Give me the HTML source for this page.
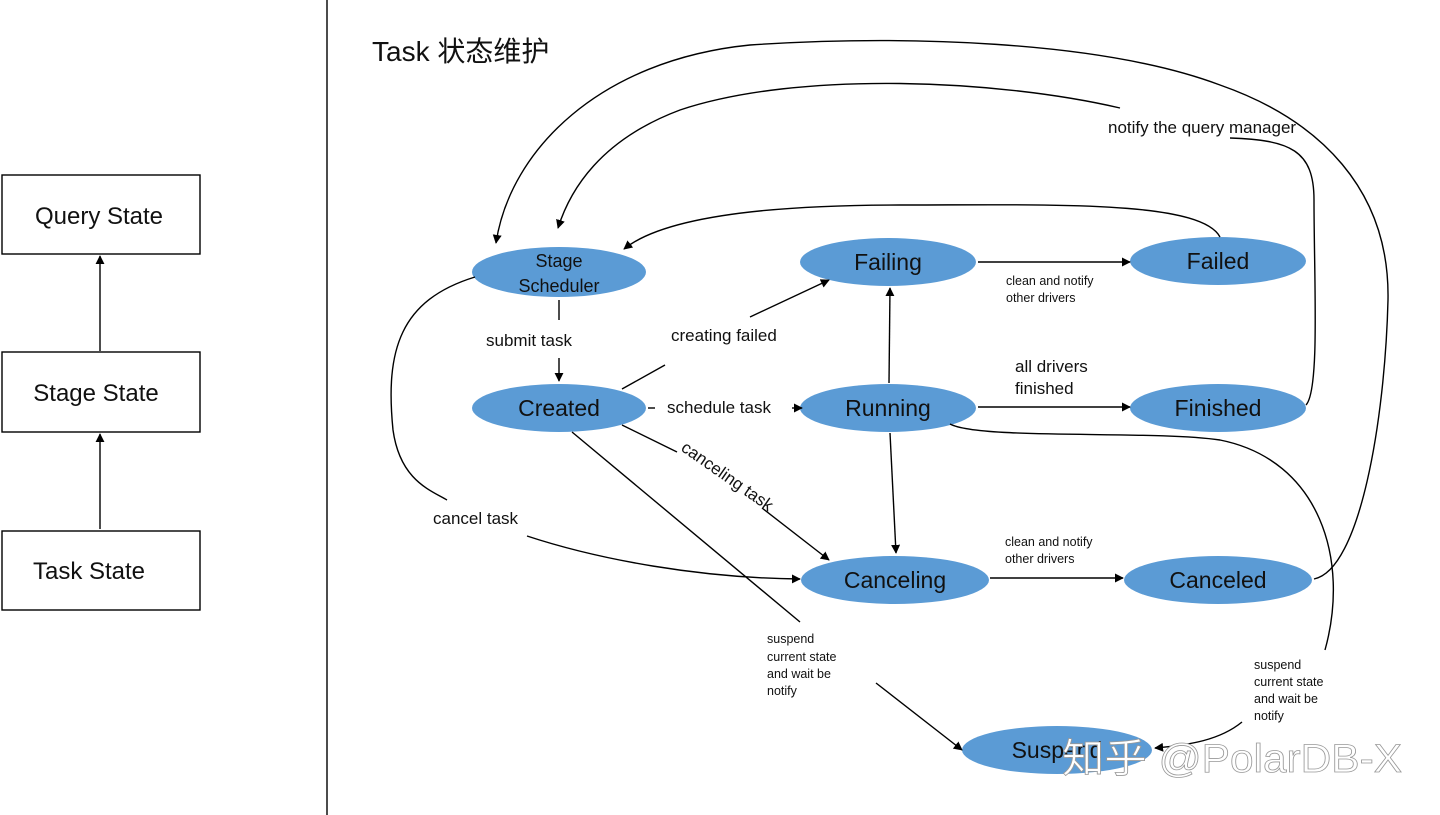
<!DOCTYPE html><html><head><meta charset="utf-8"><style>body{margin:0;background:#fff}svg{display:block}text{font-family:"Liberation Sans","Noto Sans CJK SC",sans-serif;fill:#111}</style></head><body>
<svg width="1440" height="815" viewBox="0 0 1440 815" xmlns="http://www.w3.org/2000/svg">
<defs><marker id="a" viewBox="0 0 10 10" refX="9" refY="5" markerWidth="9" markerHeight="9" markerUnits="userSpaceOnUse" orient="auto"><path d="M0,0L10,5L0,10z" fill="#000"/></marker></defs>
<g fill="none" stroke="#000" stroke-width="1.4">
<rect x="2" y="175" width="198" height="79"/><rect x="2" y="352" width="198" height="80"/><rect x="2" y="531" width="198" height="79"/>
<line x1="100" y1="351" x2="100" y2="256" marker-end="url(#a)"/><line x1="100" y1="529" x2="100" y2="434" marker-end="url(#a)"/>
<line x1="327" y1="0" x2="327" y2="815"/>
</g>
<g fill="#5b9bd5">
<ellipse cx="559" cy="272" rx="87" ry="25"/><ellipse cx="559" cy="408" rx="87" ry="24"/>
<ellipse cx="888" cy="262" rx="88" ry="24"/><ellipse cx="888" cy="408" rx="88" ry="24"/>
<ellipse cx="1218" cy="261" rx="88" ry="24"/><ellipse cx="1218" cy="408" rx="88" ry="24"/>
<ellipse cx="895" cy="580" rx="94" ry="24"/><ellipse cx="1218" cy="580" rx="94" ry="24"/>
<ellipse cx="1057" cy="750" rx="95" ry="24"/>
</g>
<g fill="none" stroke="#000" stroke-width="1.4">
<line x1="559" y1="300" x2="559" y2="320"/><line x1="559" y1="358" x2="559" y2="381" marker-end="url(#a)"/>
<line x1="622" y1="389" x2="665" y2="365"/><line x1="750" y1="317" x2="829" y2="280" marker-end="url(#a)"/>
<line x1="648" y1="408" x2="655" y2="408"/><line x1="792" y1="408" x2="802" y2="408" marker-end="url(#a)"/>
<line x1="889" y1="383" x2="890" y2="288" marker-end="url(#a)"/>
<line x1="978" y1="262" x2="1130" y2="262" marker-end="url(#a)"/>
<line x1="978" y1="407" x2="1130" y2="407" marker-end="url(#a)"/>
<line x1="890" y1="433" x2="896" y2="553" marker-end="url(#a)"/>
<line x1="990" y1="578" x2="1123" y2="578" marker-end="url(#a)"/>
<line x1="622" y1="425" x2="677" y2="452"/><line x1="762" y1="508" x2="829" y2="560" marker-end="url(#a)"/>
<line x1="572" y1="432" x2="800" y2="622"/><line x1="876" y1="683" x2="962" y2="750" marker-end="url(#a)"/>
<path d="M527,536 C600,560 700,578 800,579" marker-end="url(#a)"/>
<path d="M475,277 C400,300 385,350 393,430 C400,480 430,490 447,500"/>
<path d="M1220,237 C1200,200 1050,205 900,205 C750,205 660,220 624,249" marker-end="url(#a)"/>
<path d="M1306,405 C1320,390 1314,280 1314,200 C1314,150 1290,140 1230,138"/>
<path d="M1120,108 C1000,80 800,70 680,110 C600,140 570,190 558,228" marker-end="url(#a)"/>
<path d="M1314,579 C1360,570 1385,420 1388,300 C1390,190 1320,120 1220,85 C1100,40 900,35 750,45 C600,60 510,150 496,243" marker-end="url(#a)"/>
<path d="M950,424 C980,440 1150,430 1220,440 C1320,460 1350,560 1325,650"/>
<path d="M1242,722 C1220,740 1190,745 1155,748" marker-end="url(#a)"/>
</g>
<g font-size="24" text-anchor="middle">
<text x="99" y="224">Query State</text><text x="96" y="401">Stage State</text><text x="89" y="579">Task State</text>
</g>
<g font-size="23" text-anchor="middle">
<text x="559" y="416">Created</text><text x="888" y="270">Failing</text><text x="888" y="416">Running</text>
<text x="1218" y="269">Failed</text><text x="1218" y="416">Finished</text><text x="895" y="588">Canceling</text>
<text x="1218" y="588">Canceled</text><text x="1057" y="758">Suspend</text>
</g>
<g font-size="18" text-anchor="middle"><text x="559" y="267">Stage</text><text x="559" y="292">Scheduler</text></g>
<text x="372" y="61" font-size="28">Task 状态维护</text>
<g font-size="17">
<text x="486" y="346">submit task</text><text x="671" y="341">creating failed</text><text x="667" y="413">schedule task</text>
<text x="1108" y="133">notify the query manager</text><text x="1015" y="372">all drivers</text><text x="1015" y="394">finished</text>
<text x="433" y="524">cancel task</text>
<text x="680" y="450" transform="rotate(35 680 450)">canceling task</text>
</g>
<g font-size="12.5">
<text x="1006" y="285">clean and notify</text><text x="1006" y="302">other drivers</text>
<text x="1005" y="546">clean and notify</text><text x="1005" y="563">other drivers</text>
<text x="767" y="643">suspend</text><text x="767" y="661">current state</text><text x="767" y="678">and wait be</text><text x="767" y="695">notify</text>
<text x="1254" y="669">suspend</text><text x="1254" y="686">current state</text><text x="1254" y="703">and wait be</text><text x="1254" y="720">notify</text>
</g>
<text x="1062" y="772" font-size="40" textLength="340" lengthAdjust="spacingAndGlyphs" style="fill:#fff;stroke:#999;stroke-width:0.8">知乎 @PolarDB-X</text>
</svg></body></html>
